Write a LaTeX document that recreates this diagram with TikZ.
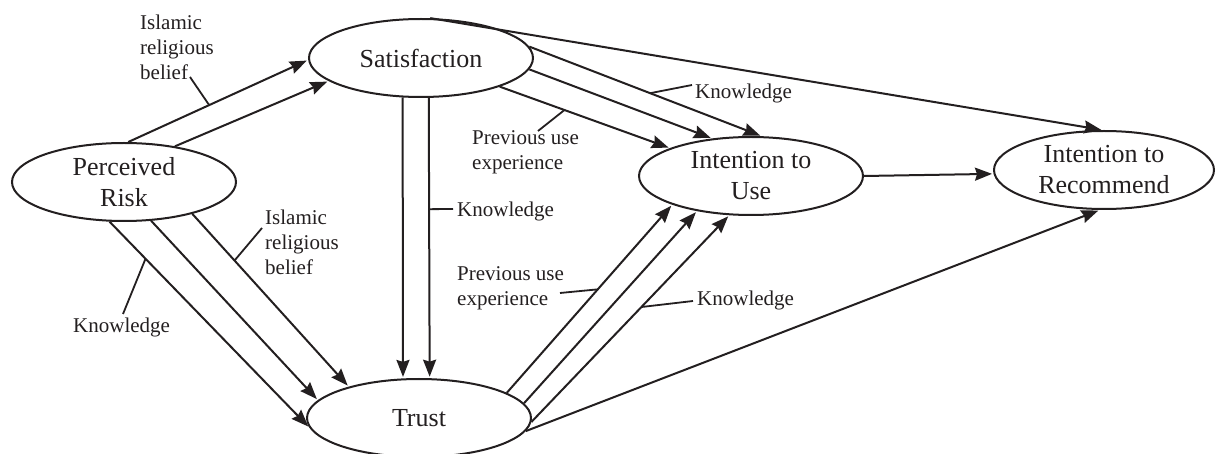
\documentclass[tikz,border=0pt]{standalone}
\usepackage{fontspec}
\setmainfont{Liberation Serif}
\usetikzlibrary{shapes.geometric,arrows.meta}
\definecolor{ink}{HTML}{231F20}
\begin{document}
\begin{tikzpicture}[x=1pt,y=-1pt,
  construct/.style={ellipse,draw=ink,line width=2pt,minimum width=224pt,minimum height=78pt,inner sep=0pt,align=center,font=\fontsize{26}{31}\selectfont,text=ink},
  arr/.style={draw=ink,line width=2pt,shorten >=1.5pt,-{Stealth[length=17pt,width=13pt,inset=2pt]}},
  leader/.style={draw=ink,line width=1.8pt},
  lbl/.style={inner sep=0pt,align=left,font=\fontsize{21}{25}\selectfont,text=ink}]
\useasboundingbox (0,0) rectangle (1216,454);
% constructs
\node[construct] (pr) at (124,182) {Perceived\\Risk};
\node[construct] (sat) at (421,58) {Satisfaction};
\node[construct] (intu) at (751,176) {Intention to\\Use};
\node[construct,minimum width=220pt] (intr) at (1104,170) {Intention to\\Recommend};
\node[construct] (trust) at (419,418) {Trust};
% labels
\node[lbl,anchor=north west] (t1) at (140,15) {Islamic\\religious\\belief};
\node[lbl,anchor=north west] (t2) at (265,210) {Islamic\\religious\\belief};
\node[lbl,anchor=base west] (t3) at (73,333) {Knowledge};
\node[lbl,anchor=base west] (t4) at (457,217) {Knowledge};
\node[lbl,anchor=base west] (t5) at (695,99) {Knowledge};
\node[lbl,anchor=north west] (t6) at (472,130) {Previous use\\experience};
\node[lbl,anchor=north west] (t7) at (457,266) {Previous use\\experience};
\node[lbl,anchor=base west] (t8) at (697,306) {Knowledge};
% label ends of leader lines
\coordinate (c1) at (190,77);
\coordinate (c2) at (262,228);
\coordinate (c3) at (123,314);
\coordinate (c4) at (453,209);
\coordinate (c5) at (692,85);
\coordinate (c6) at (538,131);
\coordinate (c7) at (560,293);
\coordinate (c8) at (693,301);
% Perceived Risk -> Satisfaction
\draw[arr] (pr.84.7) -- coordinate[pos=.45] (m1) (sat.181.5);
\draw[arr] (pr.35.4) -- (sat.194.2);
% Perceived Risk -> Trust
\draw[arr] (pr.250.6) -- coordinate[pos=.18] (m3) (trust.185.5);
\draw[arr] (pr.305.9) -- (trust.170.6);
\draw[arr] (pr.335.8) -- coordinate[pos=.27] (m2) (trust.156.4);
% Satisfaction -> Trust
\draw[arr] (sat.245.5) -- (trust.112);
\draw[arr] (sat.281.3) -- coordinate[pos=.397] (m4) (trust.75.9);
% Satisfaction -> Intention to Use
\draw[arr] (sat.6.1) -- coordinate[pos=.52] (m5) (intu.75);
\draw[arr] (sat.354.9) -- (intu.136.4);
\draw[arr] (sat.340) -- coordinate[pos=.38] (m6) (intu.161.6);
% Satisfaction -> Intention to Recommend
\draw[arr] (sat.77.6) -- (intr.92.7);
% Intention to Use -> Intention to Recommend
\draw[arr] (intu.east) -- (intr.182.6);
% Trust -> Intention to Use
\draw[arr] (trust.16.4) -- coordinate[pos=.55] (m7) (intu.200);
\draw[arr] (trust.8.7) -- (intu.213);
\draw[arr] (trust.358) -- coordinate[pos=.556] (m8) (intu.241.3);
% Trust -> Intention to Recommend
\draw[arr] (trust.353.7) -- (intr.264.3);
% leader lines
\draw[leader] (c1) -- (m1);
\draw[leader] (c2) -- (m2);
\draw[leader] (c3) -- (m3);
\draw[leader] (c4) -- (m4);
\draw[leader] (c5) -- (m5);
\draw[leader] (c6) -- (m6);
\draw[leader] (c7) -- (m7);
\draw[leader] (c8) -- (m8);
\end{tikzpicture}
\end{document}
